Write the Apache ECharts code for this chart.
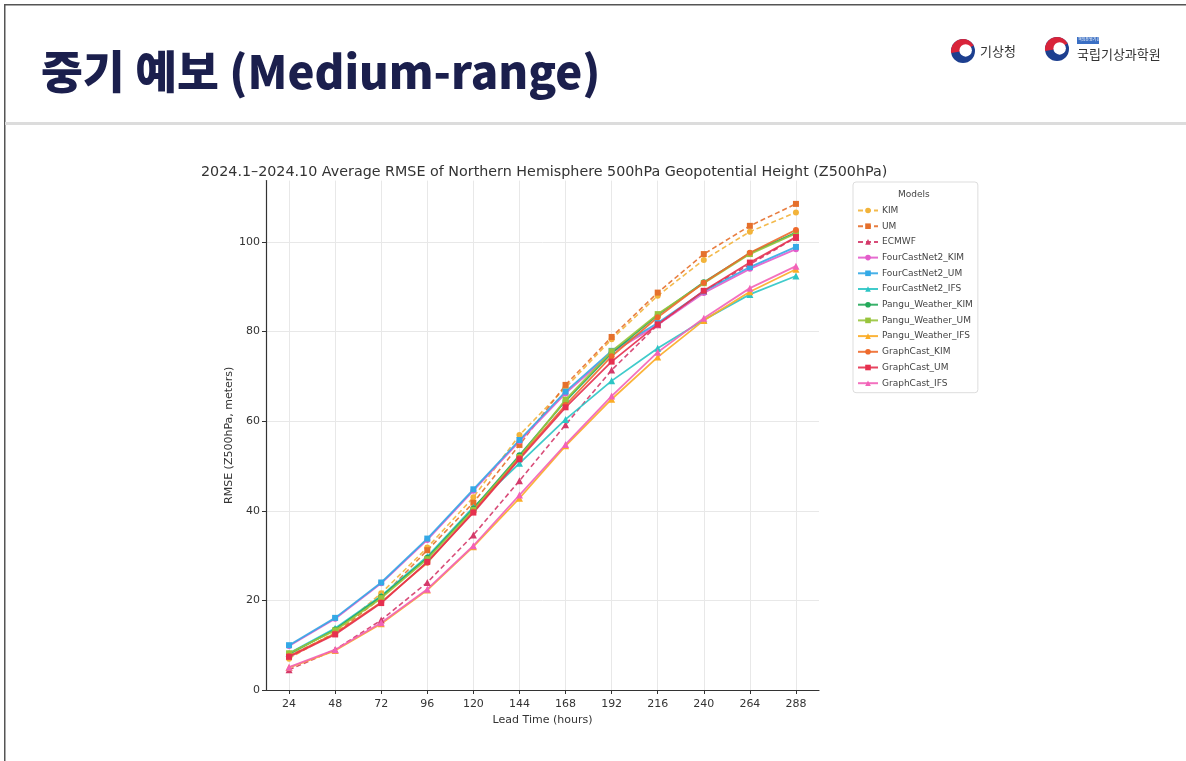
<!DOCTYPE html>
<html>
<head>
<meta charset="utf-8">
<script src="https://cdn.jsdelivr.net/npm/echarts@6/dist/echarts.min.js"></script>
<style>
html,body{margin:0;padding:0;background:#fff;}
#chart{width:1186px;height:761px;}
</style>
</head>
<body>
<div id="chart"></div>
<script>
const leadTimes = ['24','48','72','96','120','144','168','192','216','240','264','288'];

const modelNames = ['KIM','UM','ECMWF','FourCastNet2_KIM','FourCastNet2_UM','FourCastNet2_IFS',
  'Pangu_Weather_KIM','Pangu_Weather_UM','Pangu_Weather_IFS','GraphCast_KIM','GraphCast_UM','GraphCast_IFS'];

const KIM       = [7.0, 12.9, 21.6, 31.8, 43.0, 56.9, 67.5, 78.3, 88.0, 96.0, 102.3, 106.6];
const UM        = [7.6, 12.6, 20.6, 31.2, 41.8, 54.7, 68.1, 78.8, 88.7, 97.3, 103.6, 108.5];
const ECMWF     = [4.5, 9.0, 15.6, 24.0, 34.6, 46.7, 59.2, 71.4, 81.5, 89.0, 95.0, 101.0];
const FCN2_KIM  = [9.8, 15.9, 23.8, 33.5, 44.5, 55.5, 66.2, 75.3, 81.5, 88.6, 94.0, 98.4];
const FCN2_UM   = [10.0, 16.1, 24.0, 33.8, 44.8, 55.8, 66.6, 75.7, 81.9, 89.0, 94.4, 98.9];
const FCN2_IFS  = [8.2, 13.8, 21.0, 29.8, 40.8, 50.6, 60.4, 69.0, 76.3, 82.6, 88.3, 92.4];
const PANGU_KIM = [8.0, 13.5, 20.8, 29.5, 40.5, 52.4, 64.5, 75.2, 83.7, 91.0, 97.5, 102.1];
const PANGU_UM  = [8.2, 13.3, 20.5, 29.2, 40.2, 52.0, 64.8, 75.6, 83.9, 90.8, 97.3, 101.9];
const PANGU_IFS = [5.0, 8.8, 14.8, 22.3, 32.0, 42.8, 54.5, 64.9, 74.3, 82.5, 88.9, 93.9];
const GC_KIM    = [7.6, 12.6, 19.6, 28.4, 39.8, 51.8, 63.6, 74.5, 83.2, 90.9, 97.6, 102.7];
const GC_UM     = [7.4, 12.4, 19.4, 28.6, 39.6, 51.5, 63.1, 73.3, 81.6, 89.1, 95.4, 101.1];
const GC_IFS    = [5.1, 9.0, 15.0, 22.5, 32.2, 43.5, 54.8, 65.6, 75.4, 83.0, 89.7, 94.6];

const seriesValues = [KIM, UM, ECMWF, FCN2_KIM, FCN2_UM, FCN2_IFS, PANGU_KIM, PANGU_UM, PANGU_IFS, GC_KIM, GC_UM, GC_IFS];

const colors = ['#f2b33a','#e5702c','#d43a6a','#e35ccb','#33a9e6','#2cc5c5',
  '#23a95a','#98c43c','#fbac25','#ee6a2c','#e6304f','#f262b8'];
const symbols = ['circle','rect','triangle','circle','rect','triangle','circle','rect','triangle','circle','rect','triangle'];
const dashed = [true,true,true,false,false,false,false,false,false,false,false,false];

const chart = echarts.init(document.getElementById('chart'), null, {renderer:'canvas'});

const series = modelNames.map((name, i) => ({
  name: name,
  type: 'line',
  data: seriesValues[i],
  symbol: symbols[i],
  symbolSize: symbols[i]==='triangle' ? 7 : 6,
  showSymbol: true,
  color: colors[i],
  lineStyle: {width: dashed[i] ? 1.6 : 1.8, type: dashed[i] ? [5,3] : 'solid', opacity: 0.9},
  itemStyle: {color: colors[i]},
  animation: false,
  z: 2
}));

function taegeuk(cx, cy, r) {
  return {
    type: 'group',
    children: [
      {type:'circle', shape:{cx:cx, cy:cy, r:r}, style:{fill:'#1d3f8f'}},
      {type:'sector', shape:{cx:cx, cy:cy, r:r, r0:0, startAngle:Math.PI*0.95, endAngle:Math.PI*1.85}, style:{fill:'#d9243a'}},
      {type:'circle', shape:{cx:cx+r*0.22, cy:cy-r*0.05, r:r*0.52}, style:{fill:'#ffffff'}}
    ]
  };
}

const option = {
  backgroundColor: '#ffffff',
  animation: false,
  title: {
    text: '2024.1\u20132024.10 Average RMSE of Northern Hemisphere 500hPa Geopotential Height (Z500hPa)',
    left: 196, top: 160,
    textStyle: {fontFamily: 'DejaVu Sans', fontSize: 14.3, fontWeight: 'normal', color: '#333'}
  },
  grid: {left: 266, right: 367, top: 180.6, bottom: 71, containLabel: false},
  legend: {
    orient: 'vertical',
    left: 853, top: 182,
    padding: [24, 5, 5, 4],
    backgroundColor: '#ffffff',
    borderColor: '#dddddd',
    borderWidth: 1,
    borderRadius: 3,
    itemWidth: 20, itemHeight: 7, itemGap: 6.7,
    data: modelNames,
    textStyle: {fontFamily: 'DejaVu Sans', fontSize: 9, color: '#444', padding: [0,0,0,-1]}
  },
  xAxis: {
    type: 'category',
    data: leadTimes,
    boundaryGap: true,
    offset: 3,
    name: 'Lead Time (hours)',
    nameLocation: 'middle',
    nameGap: 22,
    nameTextStyle: {fontFamily: 'DejaVu Sans', fontSize: 11, color: '#333'},
    axisLine: {show: true, lineStyle: {color: '#333', width: 1.2}},
    axisTick: {show: true, alignWithLabel: true, length: 4, lineStyle: {color: '#333'}},
    axisLabel: {fontFamily: 'DejaVu Sans', fontSize: 11, color: '#333', margin: 6},
    splitLine: {show: true, alignWithLabel: true, lineStyle: {color: '#e8e8e8', width: 1}},
    splitArea: {show: false}
  },
  yAxis: {
    type: 'value',
    min: 0, max: 113.7, interval: 20,
    name: 'RMSE (Z500hPa, meters)',
    nameLocation: 'middle',
    nameGap: 28,
    nameRotate: 90,
    nameTextStyle: {fontFamily: 'DejaVu Sans', fontSize: 11, color: '#333'},
    axisLine: {show: true, lineStyle: {color: '#333', width: 1.2}},
    axisTick: {show: true, length: 4, lineStyle: {color: '#333'}},
    axisLabel: {fontFamily: 'DejaVu Sans', fontSize: 11, color: '#333', margin: 6, showMaxLabel: false,
      formatter: v => (v % 20 === 0 ? String(v) : '')},
    splitLine: {show: true, showMaxLine: false, lineStyle: {color: '#e8e8e8', width: 1}}
  },
  series: series,
  graphic: [
    {type:'rect', shape:{x:4, y:4, width:1182, height:1.5}, style:{fill:'#555'}, silent:true},
    {type:'rect', shape:{x:4, y:4, width:1.5, height:757}, style:{fill:'#555'}, silent:true},
    {type:'rect', shape:{x:5, y:122, width:1181, height:3}, style:{fill:'#dcdcdc'}, silent:true},
    {type:'text', left: 41, top: 49, style:{text:'중기 예보 (Medium-range)', fontFamily:'"Noto Sans CJK KR", "Noto Sans", sans-serif', fontSize: 45.5, fontWeight: 900, fill:'#1b1f4d'}},
    taegeuk(963, 51, 12),
    {type:'text', left: 980, top: 45, style:{text:'기상청', fontFamily:'"Noto Sans CJK KR"', fontSize: 13, fill:'#333'}},
    taegeuk(1057, 49, 12),
    {type:'rect', shape:{x:1077, y:37, width:22, height:7}, style:{fill:'#3a6fc4'}},
    {type:'text', left: 1078, top: 37.5, style:{text:'책임운영기관', fontFamily:'"Noto Sans CJK KR"', fontSize: 4, fill:'#fff'}},
    {type:'text', left: 1077, top: 48, style:{text:'국립기상과학원', fontFamily:'"Noto Sans CJK KR"', fontSize: 13, fill:'#333'}},
    {type:'text', left: 898, top: 190, style:{text:'Models', fontFamily:'DejaVu Sans', fontSize: 9, fill:'#444'}, z: 100}
  ]
};

chart.setOption(option);
</script>
</body>
</html>
